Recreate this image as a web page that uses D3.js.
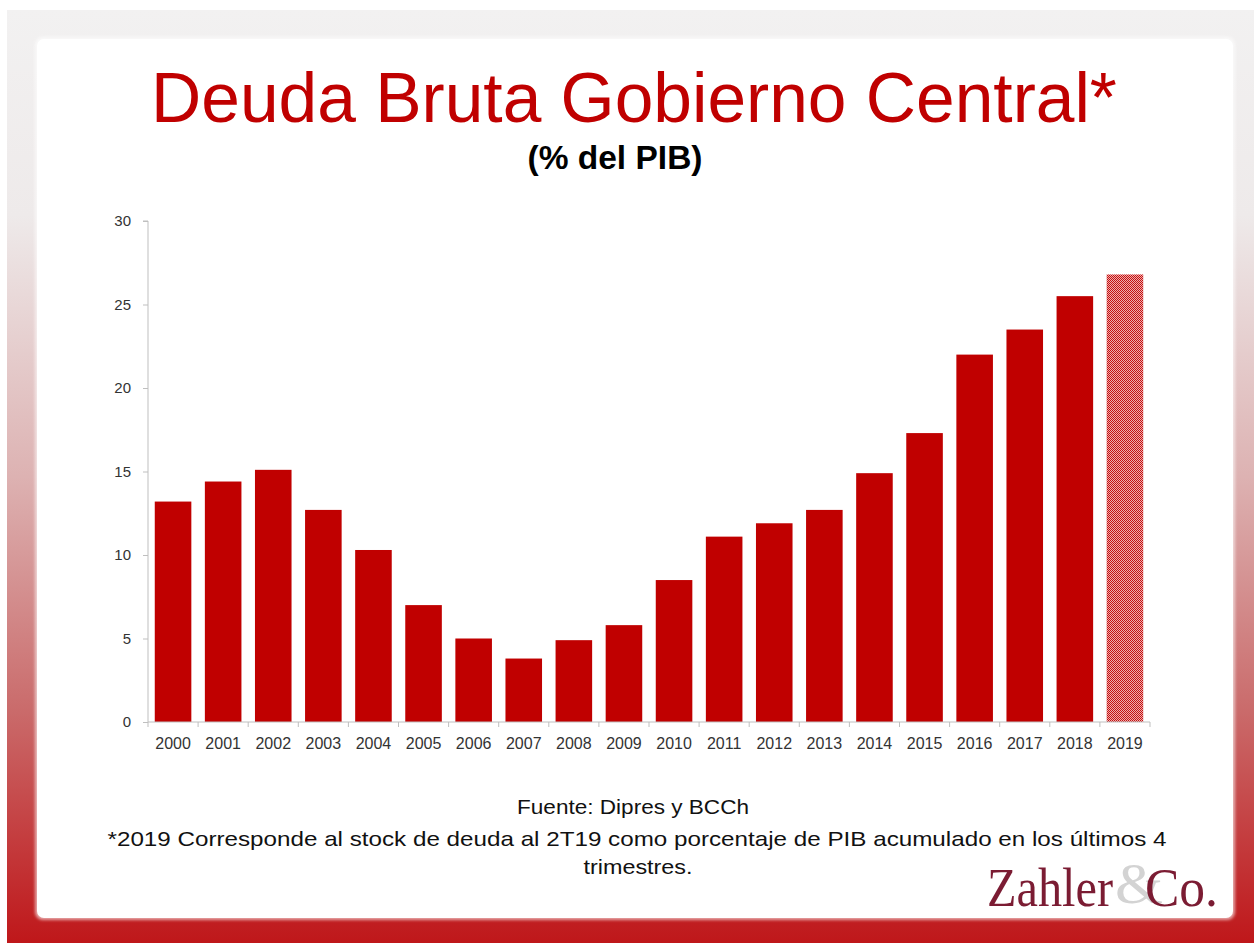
<!DOCTYPE html>
<html>
<head>
<meta charset="utf-8">
<script src="https://cdn.jsdelivr.net/npm/d3@7"></script>
<style>
  html, body { margin: 0; padding: 0; background: #ffffff; }
  svg { display: block; }
</style>
</head>
<body>
<script>
// ---- Data ----
const years = ["2000","2001","2002","2003","2004","2005","2006","2007","2008","2009",
               "2010","2011","2012","2013","2014","2015","2016","2017","2018","2019"];
const debtPct = [13.2, 14.4, 15.1, 12.7, 10.3, 7.0, 5.0, 3.8, 4.9, 5.8,
                 8.5, 11.1, 11.9, 12.7, 14.9, 17.3, 22.0, 23.5, 25.5, 26.8];
const estimated = ["2019"];
const yTicks = [0, 5, 10, 15, 20, 25, 30];
const titleText = "Deuda Bruta Gobierno Central*";
const subtitleText = "(% del PIB)";
const sourceText = "Fuente:  Dipres y BCCh";
const noteLine1 = "*2019 Corresponde al stock de deuda al 2T19 como porcentaje de PIB acumulado  en los últimos  4";
const noteLine2 = "trimestres.";

const W = 1254, H = 943;
const svg = d3.select("body").append("svg").attr("width", W).attr("height", H);
const defs = svg.append("defs");

// background gradient
const bg = defs.append("linearGradient").attr("id", "bgGrad")
  .attr("x1", 0).attr("y1", 0).attr("x2", 0).attr("y2", 1);
[[0, "#f2f1f1"], [0.22, "#eeeaea"], [0.5, "#ddb2b2"], [0.75, "#ca6b6b"], [1, "#bf171a"]]
  .forEach(([o, c]) => bg.append("stop").attr("offset", o).attr("stop-color", c));

// dotted pattern for estimated bar
const pat = defs.append("pattern").attr("id", "dots")
  .attr("patternUnits", "userSpaceOnUse").attr("width", 2).attr("height", 2);
pat.append("rect").attr("width", 2).attr("height", 2).attr("fill", "#efadad");
pat.append("rect").attr("x", 0).attr("y", 0).attr("width", 1).attr("height", 1).attr("fill", "#c41010");
pat.append("rect").attr("x", 1).attr("y", 1).attr("width", 1).attr("height", 1).attr("fill", "#c41010");

const glow = defs.append("filter").attr("id", "soft").attr("x", -0.05).attr("y", -0.05).attr("width", 1.1).attr("height", 1.1);
glow.append("feGaussianBlur").attr("stdDeviation", 1.5);

svg.append("rect").attr("x", 7).attr("y", 10).attr("width", W - 7).attr("height", H - 10)
  .attr("fill", "url(#bgGrad)");

svg.append("rect").attr("x", 35).attr("y", 37).attr("width", 1200).attr("height", 883)
  .attr("rx", 8).attr("fill", "#ffffff").attr("opacity", 0.6).attr("filter", "url(#soft)");
svg.append("rect").attr("x", 37).attr("y", 39).attr("width", 1196).attr("height", 879)
  .attr("rx", 7).attr("fill", "#ffffff");

// Titles
svg.append("text").attr("x", 634).attr("y", 122).attr("text-anchor", "middle")
  .attr("font-family", "Liberation Sans, Arial, sans-serif").attr("font-size", 69.5)
  .attr("fill", "#c00000").text(titleText);
svg.append("text").attr("x", 615).attr("y", 169).attr("text-anchor", "middle")
  .attr("font-family", "Liberation Sans, Arial, sans-serif").attr("font-size", 33.5)
  .attr("font-weight", "bold").attr("fill", "#000000").text(subtitleText);

// Chart
const x0 = 148, x1 = 1150, yTop = 221, yBot = 722;
const x = d3.scaleBand().domain(years).range([x0, x1]).paddingInner(0.27).paddingOuter(0.135);
const y = d3.scaleLinear().domain([0, 30]).range([yBot, yTop]);

const g = svg.append("g");

g.selectAll("rect.bar").data(years).enter().append("rect")
  .attr("class", "bar")
  .attr("x", d => x(d))
  .attr("width", x.bandwidth())
  .attr("y", (d, i) => y(debtPct[i]))
  .attr("height", (d, i) => y(0) - y(debtPct[i]))
  .attr("fill", d => estimated.includes(d) ? "url(#dots)" : "#c00000");

// Y axis
const yAxis = d3.axisLeft(y).tickValues(yTicks).tickSize(5).tickPadding(12);
const ya = g.append("g").attr("transform", `translate(${x0},0)`).call(yAxis);
ya.select(".domain").attr("stroke", "#bfbfbf").attr("d", `M-5,${yTop}H0V${yBot}`);
ya.selectAll(".tick line").attr("stroke", "#bfbfbf");
ya.selectAll("text").attr("font-family", "Liberation Sans, Arial, sans-serif")
  .attr("font-size", 15).attr("fill", "#333333");

// X axis
const xAxis = d3.axisBottom(x).tickSize(0).tickPadding(16);
const xa = g.append("g").attr("transform", `translate(0,${yBot})`).call(xAxis);
xa.select(".domain").attr("stroke", "#bfbfbf").attr("d", `M${x0},0H${x1}`);
xa.selectAll("text").attr("font-family", "Liberation Sans, Arial, sans-serif")
  .attr("font-size", 16).attr("fill", "#333333").attr("y", 16).attr("dy", "0.71em");
// separators between categories
const seps = d3.range(years.length + 1).map(i => x0 + i * (x1 - x0) / years.length);
xa.selectAll("line.sep").data(seps).enter().append("line").attr("class", "sep")
  .attr("x1", d => d).attr("x2", d => d).attr("y1", 0).attr("y2", 5)
  .attr("stroke", "#bfbfbf");

// Footer
const footFont = "Liberation Sans, Arial, sans-serif";
function footText(txt, cx, by, len) {
  svg.append("text").attr("x", cx - len / 2).attr("y", by)
    .attr("font-family", footFont).attr("font-size", 21).attr("fill", "#111")
    .attr("textLength", len).attr("lengthAdjust", "spacingAndGlyphs")
    .text(txt);
}
footText(sourceText, 633, 814, 232);
footText(noteLine1, 637, 846, 1059);
footText(noteLine2, 638, 874, 109);

// Logo
const logo = svg.append("g").attr("font-family", "Liberation Serif, 'Times New Roman', serif");
logo.append("text").attr("x", 1115).attr("y", 903)
  .attr("font-size", 56).attr("fill", "#d3d3d3")
  .attr("textLength", 48).attr("lengthAdjust", "spacingAndGlyphs").text("&");
logo.append("text").attr("x", 987).attr("y", 906).attr("font-size", 54)
  .attr("fill", "#7b1c33").attr("textLength", 126).attr("lengthAdjust", "spacingAndGlyphs").text("Zahler");
logo.append("text").attr("x", 1145).attr("y", 906).attr("font-size", 54)
  .attr("fill", "#7b1c33").attr("textLength", 73).attr("lengthAdjust", "spacingAndGlyphs").text("Co.");
</script>
</body>
</html>
